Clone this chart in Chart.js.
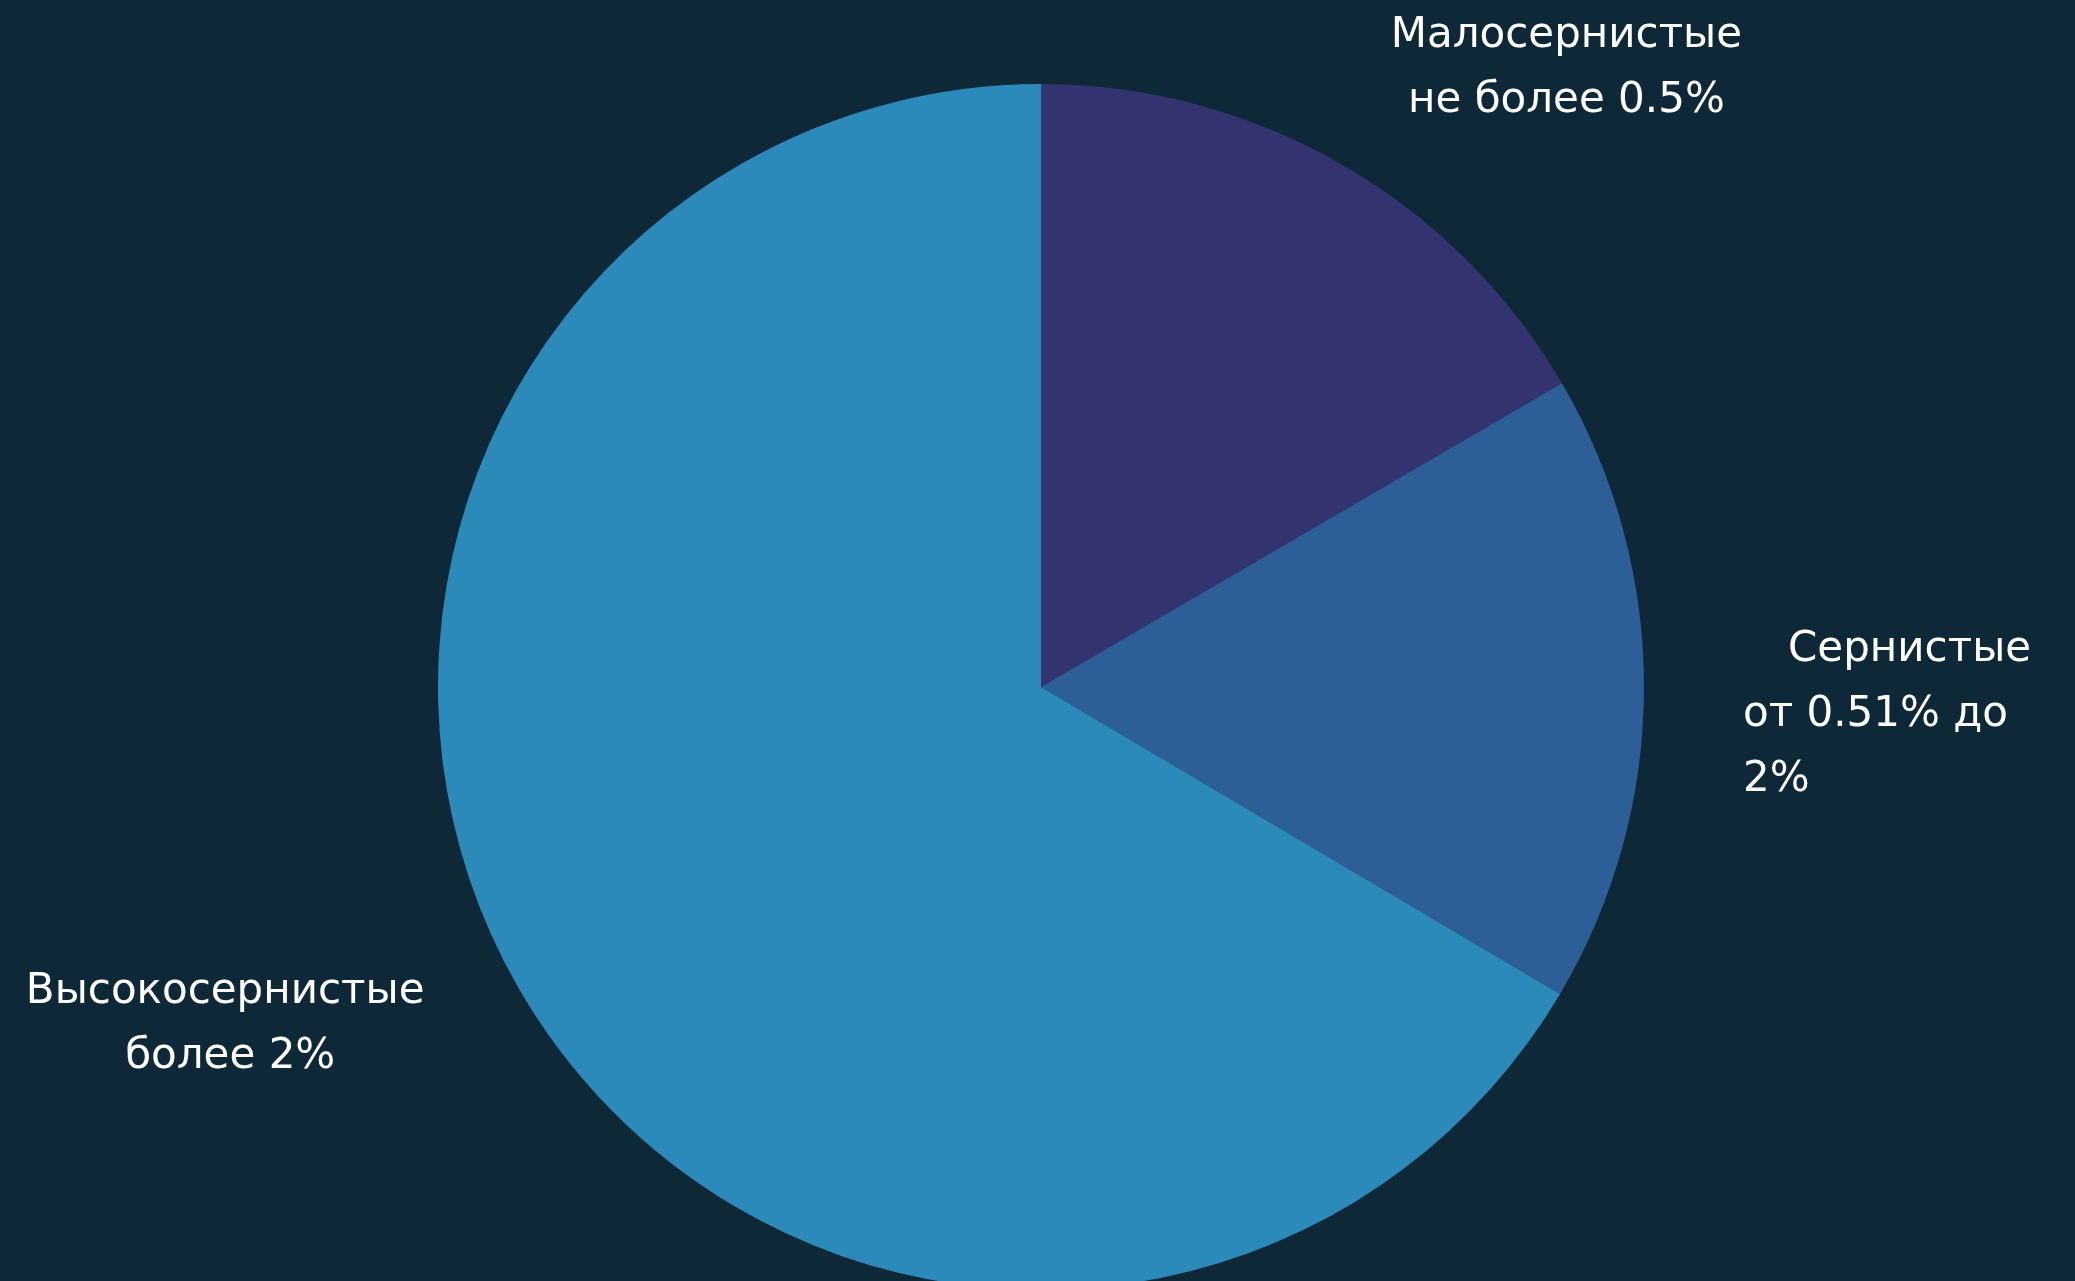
<!DOCTYPE html>
<html>
<head>
<meta charset="utf-8">
<script src="https://cdn.jsdelivr.net/npm/chart.js@4/dist/chart.umd.min.js"></script>
<style>
  html, body { margin: 0; padding: 0; background: #0f2838; overflow: hidden; }
  #wrap { width: 2075px; height: 1300px; position: relative; }
</style>
</head>
<body>
<div id="wrap"><canvas id="sulfurChart"></canvas></div>
<script>
// Données du graphique
const categories = [
    ['Малосернистые', 'не более 0.5%'],
    ['Сернистые', 'от 0.51% до', '2%'],
    ['Высокосернистые', 'более 2%']
];
const shares = [16.6, 16.9, 66.5];
const sliceColors = ['#33346f', '#2d5e98', '#2c8aba'];

// Position des étiquettes par rapport au milieu de l'arc (px)
const labelPlacement = [
    { dx: 225, dy: -117, align: 'center', indent: [0, 0] },
    { dx: 99, dy: -28, align: 'left', indent: [45, 0, 0] },
    { dx: -292, dy: 17, align: 'center', indent: [0, 5] }
];

const outerLabels = {
    id: 'outerLabels',
    afterDatasetsDraw(chart) {
        const ctx = chart.ctx;
        const arcs = chart.getDatasetMeta(0).data;
        ctx.save();
        ctx.fillStyle = '#ffffff';
        ctx.font = '42px "DejaVu Sans"';
        ctx.textBaseline = 'alphabetic';
        arcs.forEach((arc, i) => {
            const p = arc.getProps(['x', 'y', 'startAngle', 'endAngle', 'outerRadius'], true);
            const mid = (p.startAngle + p.endAngle) / 2;
            const ax = p.x + Math.cos(mid) * p.outerRadius;
            const ay = p.y + Math.sin(mid) * p.outerRadius;
            const pl = labelPlacement[i];
            ctx.textAlign = pl.align;
            categories[i].forEach((line, j) => {
                ctx.fillText(line, ax + pl.dx + pl.indent[j], ay + pl.dy + j * 65);
            });
        });
        ctx.restore();
    }
};

const ctx = document.getElementById('sulfurChart').getContext('2d');
window.myChart = new Chart(ctx, {
    type: 'pie',
    data: {
        labels: categories.map(c => c.join(' ')),
        datasets: [{
            data: shares,
            backgroundColor: sliceColors,
            borderWidth: 0
        }]
    },
    options: {
        responsive: true,
        maintainAspectRatio: false,
        animation: false,
        layout: { padding: { top: 84, bottom: 10, left: 7, right: 0 } },
        plugins: {
            legend: { display: false },
            tooltip: { enabled: false }
        }
    },
    plugins: [outerLabels]
});
</script>
</body>
</html>
